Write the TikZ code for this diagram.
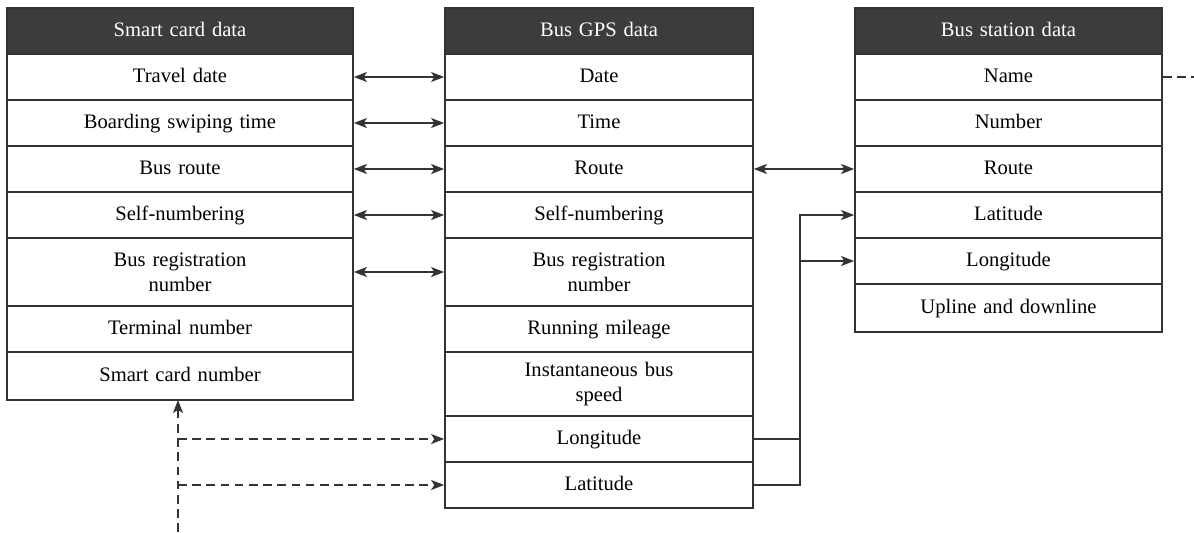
\documentclass[tikz,border=0pt]{standalone}
\usepackage{fontspec}
\setmainfont{Liberation Serif}
\usetikzlibrary{arrows.meta}
\definecolor{hdr}{HTML}{3B3D3C}
\definecolor{ln}{HTML}{333333}
\tikzset{
  cellL/.style={draw=ln, line width=0.9pt, fill=white, inner sep=0pt, minimum width=173pt, text width=150pt, align=center, font=\fontsize{10.3pt}{12.5pt}\selectfont},
  cellM/.style={cellL, minimum width=154pt, text width=130pt},
  cellR/.style={cellL, minimum width=153.5pt, text width=130pt},
  hd/.style={fill=hdr, text=white},
  one/.style={text height=7.5pt, text depth=1.8pt},
  r46/.style={one, minimum height=23pt},
  r48/.style={one, minimum height=24pt},
  r64/.style={minimum height=32pt},
  r68/.style={minimum height=34pt},
  tip/.tip={Stealth[length=6.5pt,width=5pt,inset=1.6pt]},
  link/.style={draw=ln, line width=0.7pt, tip-tip},
  onelink/.style={draw=ln, line width=0.7pt, -tip},
  dlink/.style={onelink, dash pattern=on 4.3pt off 2.8pt}
}
\begin{document}
\begin{tikzpicture}[x=0.5pt,y=-0.5pt]
\useasboundingbox (0,0) rectangle (1194,532);
% left table
\node[cellL,hd,r46] (lh) at (180,31) {Smart card data};
\node[cellL,r46] (l1) at (180,77) {Travel date};
\node[cellL,r46] (l2) at (180,123) {Boarding swiping time};
\node[cellL,r46] (l3) at (180,169) {Bus route};
\node[cellL,r46] (l4) at (180,215) {Self-numbering};
\node[cellL,r68] (l5) at (180,272) {Bus registration\\number};
\node[cellL,r46] (l6) at (180,329) {Terminal number};
\node[cellL,r48] (l7) at (180,376) {Smart card number};
% middle table
\node[cellM,hd,r46] (mh) at (599,31) {Bus GPS data};
\node[cellM,r46] (m1) at (599,77) {Date};
\node[cellM,r46] (m2) at (599,123) {Time};
\node[cellM,r46] (m3) at (599,169) {Route};
\node[cellM,r46] (m4) at (599,215) {Self-numbering};
\node[cellM,r68] (m5) at (599,272) {Bus registration\\number};
\node[cellM,r46] (m6) at (599,329) {Running mileage};
\node[cellM,r64] (m7) at (599,384) {Instantaneous bus\\speed};
\node[cellM,r46] (m8) at (599,439) {Longitude};
\node[cellM,r46] (m9) at (599,485) {Latitude};
% right table
\node[cellR,hd,r46] (rh) at (1008.5,31) {Bus station data};
\node[cellR,r46] (r1) at (1008.5,77) {Name};
\node[cellR,r46] (r2) at (1008.5,123) {Number};
\node[cellR,r46] (r3) at (1008.5,169) {Route};
\node[cellR,r46] (r4) at (1008.5,215) {Latitude};
\node[cellR,r46] (r5) at (1008.5,261) {Longitude};
\node[cellR,r48] (r6) at (1008.5,308) {Upline and downline};
% double arrows
\draw[link] (l1.east) -- (m1.west);
\draw[link] (l2.east) -- (m2.west);
\draw[link] (l3.east) -- (m3.west);
\draw[link] (l4.east) -- (m4.west);
\draw[link] (l5.east) -- (m5.west);
\draw[link] (m3.east) -- (r3.west);
% GPS coordinates to station
\coordinate (jx) at (800,0);
\draw[onelink] (m9.east) -- (m9.east -| jx) |- (r4.west);
\draw[onelink] (m8.east) -- (m8.east -| jx) |- (r5.west);
% dashed lines
\coordinate (dbot) at (178,532);
\coordinate (dtop) at (178,400);
\draw[dlink] (dbot) -- (dtop);
\draw[dlink] (m8.west -| dbot) -- (m8.west);
\draw[dlink] (m9.west -| dbot) -- (m9.west);
\coordinate (rend) at (1194,77);
\draw[draw=ln, line width=0.7pt, dash pattern=on 4.3pt off 2.8pt] (r1.east) -- (rend);
\end{tikzpicture}
\end{document}
